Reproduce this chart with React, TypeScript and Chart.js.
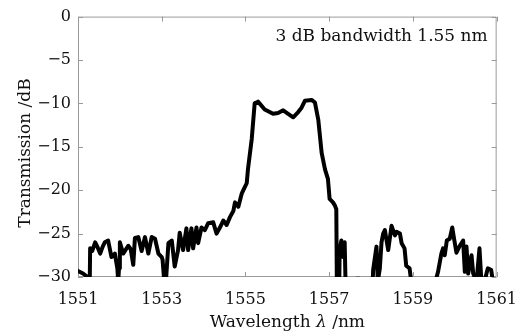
import React, { useEffect, useRef } from "react";
import { Chart, registerables } from "chart.js";

Chart.register(...registerables);

// Wavelength (nm) samples of the measured transmission trace
const wavelength: number[] = [
  1551.0, 1551.12, 1551.2, 1551.24, 1551.27, 1551.29, 1551.34, 1551.41, 1551.47, 1551.53,
  1551.59, 1551.64, 1551.72, 1551.8, 1551.88, 1551.94, 1551.96, 1551.98, 1552.0, 1552.08,
  1552.2, 1552.26, 1552.32, 1552.36, 1552.44, 1552.52, 1552.6, 1552.68, 1552.76, 1552.84,
  1552.92, 1553.0, 1553.02, 1553.06, 1553.1, 1553.16, 1553.24, 1553.31, 1553.39, 1553.43,
  1553.51, 1553.59, 1553.63, 1553.71, 1553.75, 1553.83, 1553.87, 1553.95, 1554.03, 1554.11,
  1554.23, 1554.31, 1554.39, 1554.47, 1554.55, 1554.63, 1554.71, 1554.75, 1554.83, 1554.91,
  1554.99, 1555.03, 1555.06, 1555.15, 1555.22, 1555.3, 1555.46, 1555.66, 1555.78, 1555.9,
  1556.02, 1556.14, 1556.26, 1556.34, 1556.42, 1556.58, 1556.66, 1556.74, 1556.82, 1556.9,
  1556.97, 1557.01, 1557.09, 1557.14, 1557.17, 1557.19, 1557.23, 1557.25, 1557.29, 1557.33,
  1557.37, 1557.41, 1557.6, 1557.65, 1557.69, 1557.71, 1558.0, 1558.05, 1558.13, 1558.16,
  1558.21, 1558.25, 1558.29, 1558.33, 1558.41, 1558.49, 1558.57, 1558.61, 1558.69, 1558.73,
  1558.8, 1558.84, 1558.92, 1558.96, 1559.3, 1559.6, 1559.68, 1559.72, 1559.76, 1559.81,
  1559.88, 1559.94, 1559.99, 1560.04, 1560.12, 1560.2, 1560.24, 1560.28, 1560.32, 1560.4,
  1560.44, 1560.52, 1560.59, 1560.63, 1560.71, 1560.79, 1560.87, 1560.91, 1561.0,
];

// Transmission (dB); values below -30 fall under the axis floor
const transmission: number[] = [
  -29.3, -29.6, -29.9, -35, -35, -26.7, -27.0, -26.0, -26.6, -27.3,
  -26.5, -26.0, -25.8, -27.7, -27.3, -29.0, -30.5, -29.0, -26.0, -27.3,
  -26.4, -26.8, -28.6, -25.5, -25.4, -27.0, -25.4, -27.3, -25.4, -25.6,
  -27.3, -27.7, -28.0, -30.5, -30.5, -26.1, -25.8, -28.8, -26.9, -24.9,
  -26.9, -24.4, -26.9, -24.4, -26.7, -24.3, -26.1, -24.3, -24.6, -23.8,
  -23.7, -25.0, -24.3, -23.5, -24.0, -23.1, -22.4, -21.4, -21.9, -20.4,
  -19.6, -19.2, -17.6, -14.1, -10.0, -9.8, -10.7, -11.2, -11.1, -10.8,
  -11.2, -11.6, -11.0, -10.5, -9.7, -9.6, -9.9, -11.9, -15.7, -17.6,
  -18.7, -21.0, -21.4, -21.8, -22.2, -35, -35, -26.9, -25.8, -27.7,
  -26.0, -35, -35, -30.2, -30.2, -35, -35, -29.2, -26.5, -30.5,
  -29.0, -26.0, -25.0, -24.6, -26.9, -24.1, -25.2, -24.8, -25.0, -26.1,
  -26.7, -28.7, -29.0, -30.5, -35, -29.4, -27.3, -26.7, -27.5, -25.8,
  -25.6, -24.3, -25.8, -27.2, -26.4, -25.8, -29.4, -26.5, -29.6, -27.5,
  -29.6, -30.5, -26.7, -30.0, -30.5, -29.0, -29.2, -30.5, -30.5,
];

const xMin = 1551;
const xMax = 1561;
const xStep = 2;
const yMin = -30;
const yMax = 0;
const yStep = 5;

const xTitleParts = ["Wavelength ", "λ", " /nm"];
const yTitle = "Transmission /dB";
const annotation = "3 dB bandwidth 1.55 nm";

const SERIF = "'DejaVu Serif', serif";

const fmt = (v: number) => (v < 0 ? "\u2212" + Math.abs(v) : String(v));

const framePlugin = {
  id: "frameTicks",
  beforeDatasetsDraw(chart: any) {
    const { ctx, chartArea: a, scales } = chart;
    const xs = scales.x;
    const ys = scales.y;
    const tl = 5;
    ctx.save();
    ctx.strokeStyle = "#9a9a9a";
    ctx.lineWidth = 1;
    ctx.beginPath();
    ctx.rect(a.left + 0.5, a.top + 0.5, a.right - a.left - 1, a.bottom - a.top - 1);
    ctx.stroke();
    ctx.beginPath();
    xs.ticks.forEach((t: any) => {
      const px = Math.round(xs.getPixelForValue(t.value)) + 0.5;
      ctx.moveTo(px, a.bottom);
      ctx.lineTo(px, a.bottom - tl);
      ctx.moveTo(px, a.top);
      ctx.lineTo(px, a.top + tl);
    });
    ys.ticks.forEach((t: any) => {
      const py = Math.round(ys.getPixelForValue(t.value)) + 0.5;
      ctx.moveTo(a.left, py);
      ctx.lineTo(a.left + tl, py);
      ctx.moveTo(a.right, py);
      ctx.lineTo(a.right - tl, py);
    });
    ctx.stroke();
    ctx.restore();
  },
  afterDraw(chart: any) {
    const { ctx, chartArea: a } = chart;
    ctx.save();
    ctx.fillStyle = "#111";
    // annotation
    ctx.font = `17px ${SERIF}`;
    ctx.textAlign = "right";
    ctx.textBaseline = "alphabetic";
    ctx.fillText(annotation, a.right - 9, a.top + 24);
    // x title with italic lambda
    const normal = `17px ${SERIF}`;
    const italic = `italic 17px ${SERIF}`;
    const fonts = [normal, italic, normal];
    let total = 0;
    const widths = xTitleParts.map((s, i) => {
      ctx.font = fonts[i];
      const w = ctx.measureText(s).width;
      total += w;
      return w;
    });
    const cx = (a.left + a.right) / 2;
    let x = cx - total / 2;
    ctx.textAlign = "left";
    xTitleParts.forEach((s, i) => {
      ctx.font = fonts[i];
      ctx.fillText(s, x, 327);
      x += widths[i];
    });
    // y title
    ctx.font = `17px ${SERIF}`;
    ctx.translate(30, 153);
    ctx.rotate(-Math.PI / 2);
    ctx.textAlign = "center";
    ctx.fillText(yTitle, 0, 0);
    ctx.restore();
  },
};

export default function App() {
  const ref = useRef<HTMLCanvasElement | null>(null);
  useEffect(() => {
    if (!ref.current) return;
    const points = wavelength.map((w, i) => ({ x: w, y: transmission[i] }));
    const chart = new Chart(ref.current, {
      type: "line",
      data: {
        datasets: [
          {
            data: points,
            borderColor: "#000",
            borderWidth: 4,
            pointRadius: 0,
            tension: 0,
            borderJoinStyle: "round",
            borderCapStyle: "round",
          },
        ],
      },
      options: {
        animation: false,
        responsive: false,
        devicePixelRatio: 1,
        layout: { padding: { left: 0, right: 33, top: 14, bottom: 0 } },
        plugins: { legend: { display: false }, tooltip: { enabled: false } },
        scales: {
          x: {
            type: "linear",
            min: xMin,
            max: xMax,
            grid: { display: false, drawTicks: false },
            border: { display: false },
            ticks: {
              stepSize: xStep,
              padding: 13,
              color: "#111",
              font: { family: SERIF, size: 16 },
              maxRotation: 0,
              callback: (v: any) => String(v),
            },
            afterFit: (s: any) => {
              s.height = 56;
            },
          },
          y: {
            min: yMin,
            max: yMax,
            grid: { display: false, drawTicks: false },
            border: { display: false },
            ticks: {
              stepSize: yStep,
              padding: 7,
              color: "#111",
              font: { family: SERIF, size: 16 },
              callback: (v: any) => fmt(Number(v)),
            },
            afterFit: (s: any) => {
              s.width = 78;
            },
          },
        },
      },
      plugins: [framePlugin],
    } as any);
    return () => chart.destroy();
  }, []);
  return (
    <div style={{ position: "absolute", left: 0, top: 0, width: 530, height: 333, background: "#fff" }}>
      <canvas ref={ref} width={530} height={333} />
    </div>
  );
}
